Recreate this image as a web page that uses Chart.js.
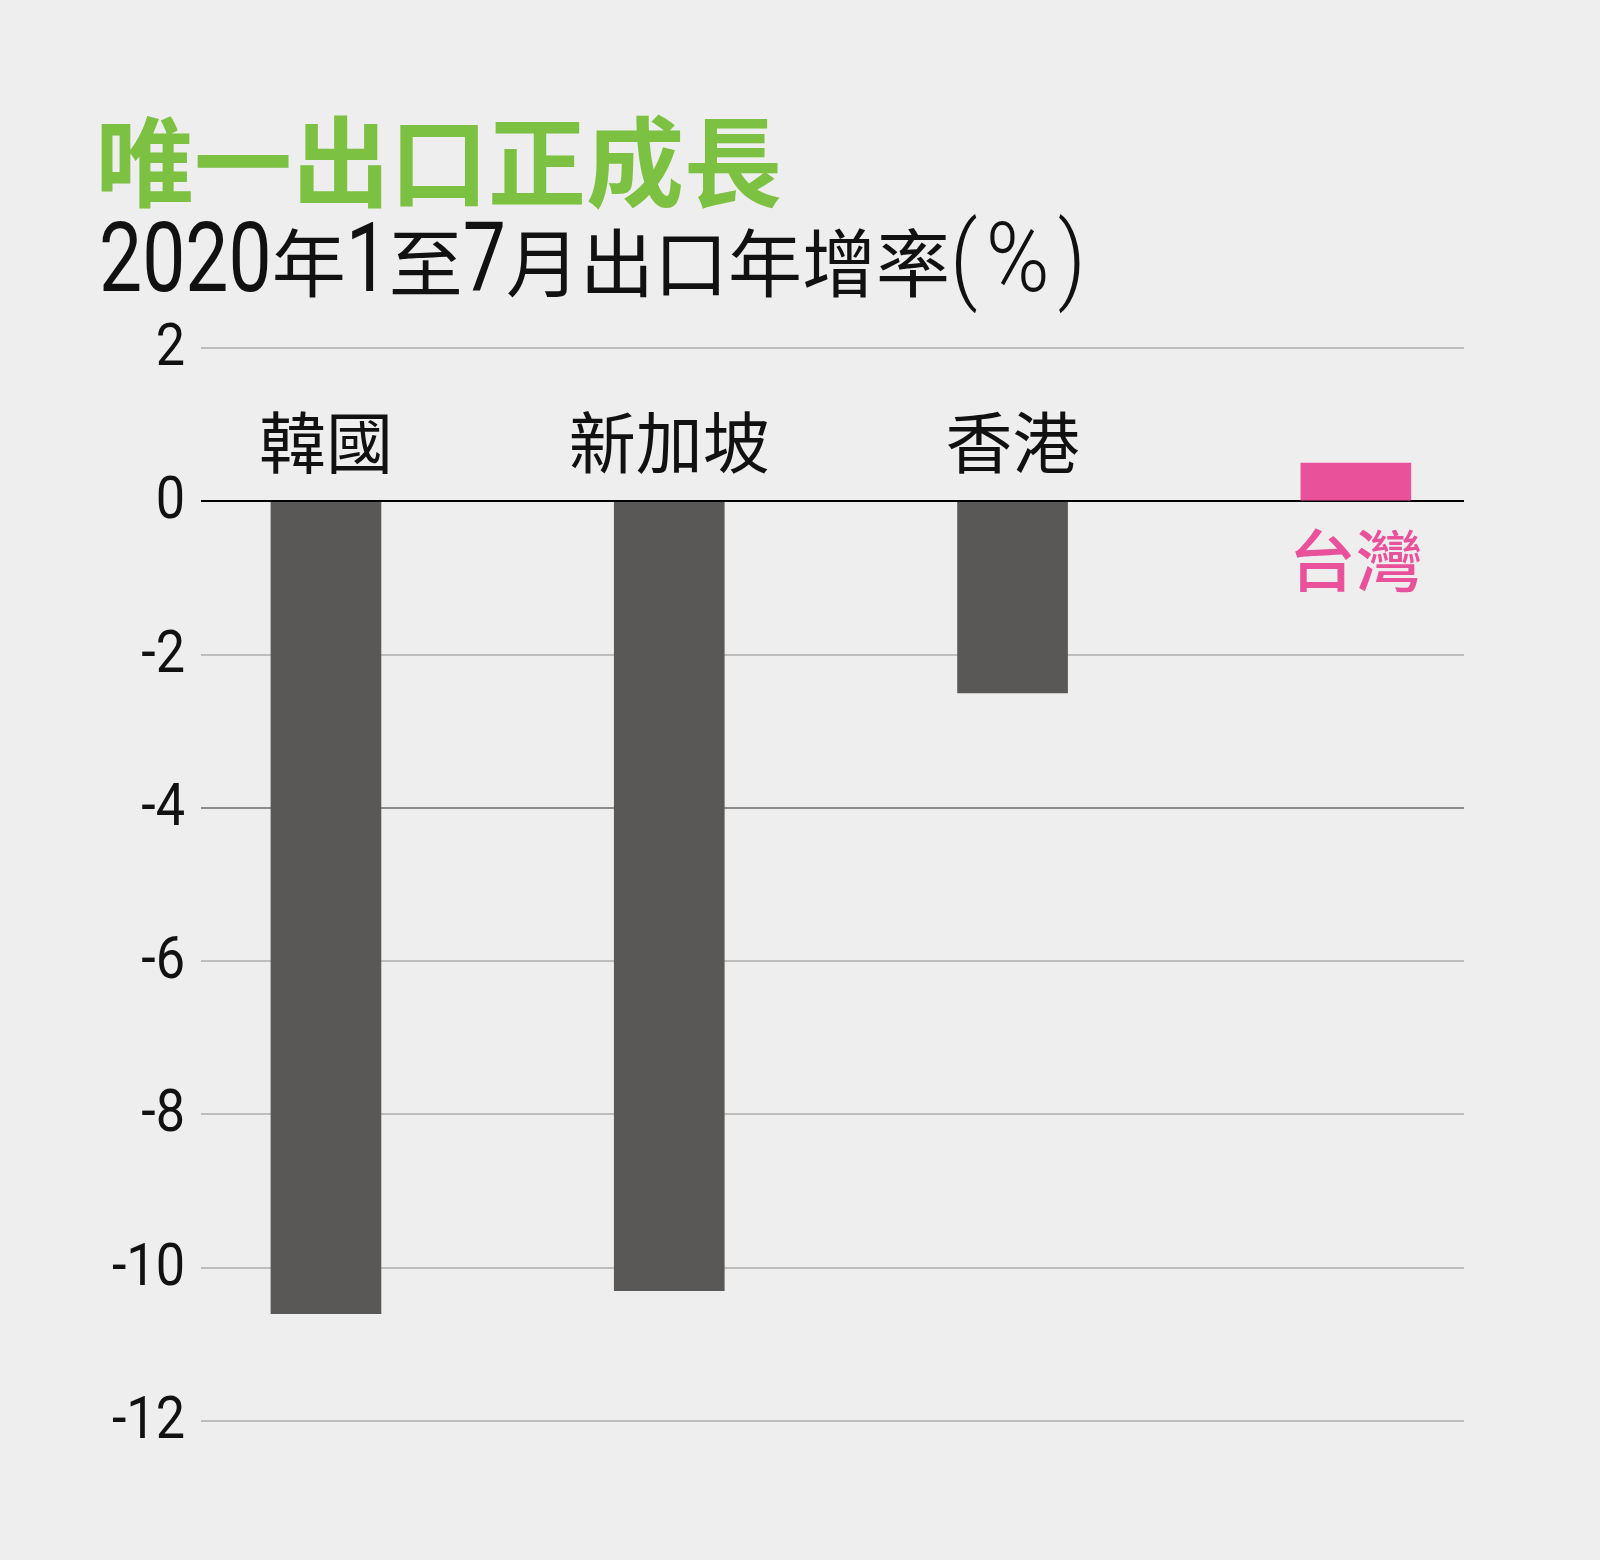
<!DOCTYPE html>
<html lang="zh-Hant">
<head>
<meta charset="utf-8">
<title>唯一出口正成長</title>
<script src="https://cdn.jsdelivr.net/npm/chart.js@4.4.1/dist/chart.umd.min.js"></script>
<style>
  html, body { margin: 0; padding: 0; background: #eeeeee; }
  #wrap { position: relative; width: 1600px; height: 1560px; }
</style>
</head>
<body>
<div id="wrap"><canvas id="exportChart"></canvas></div>
<script>
const categories = ["韓國", "新加坡", "香港", "台灣"];
const growth = [-10.6, -10.3, -2.5, 0.5];
const barColors = ["#595856", "#595856", "#595856", "#e9519a"];
const labelColors = ["#111111", "#111111", "#111111", "#e9519a"];
const title = "唯一出口正成長";
const subtitleParts = [["2020", "num"], ["年", "cjk"], ["1", "num"], ["至", "cjk"], ["7", "num"], ["月出口年增率", "cjk"], ["(%)", "sym"]];
const yMin = -12, yMax = 2, yStep = 2;

const NUM_FONT = 'Roboto, "Noto Sans", sans-serif';
const CJK_FONT = '"Noto Sans CJK TC", "Noto Sans CJK SC", sans-serif';

// no condensed face installed, so digits get squeezed horizontally
function narrowText(ctx, text, x, y, sx) {
  ctx.save();
  ctx.translate(x, y);
  ctx.scale(sx, 1);
  ctx.fillText(text, 0, 0);
  ctx.restore();
  return ctx.measureText(text).width * sx;
}

const headings = {
  id: "headings",
  afterDraw(chart) {
    const ctx = chart.ctx;
    ctx.save();
    ctx.textBaseline = "alphabetic";
    ctx.textAlign = "left";
    ctx.fillStyle = "#7dc143";
    ctx.font = `bold 98px ${CJK_FONT}`;
    ctx.fillText(title, 96, 199);
    let x = 99;
    ctx.fillStyle = "#111111";
    subtitleParts.forEach(([t, kind]) => {
      if (kind === "cjk") {
        ctx.font = `74px ${CJK_FONT}`;
        ctx.fillText(t, x, 291);
        x += ctx.measureText(t).width;
      } else if (kind === "num") {
        ctx.font = `96px ${NUM_FONT}`;
        x += narrowText(ctx, t, x, 291, 0.8);
      } else {
        ctx.font = `300 96px ${NUM_FONT}`;
        ctx.letterSpacing = "9px";
        x += narrowText(ctx, t, x, 291, 0.9);
        ctx.letterSpacing = "0px";
      }
    });
    ctx.restore();
  }
};

// y tick labels drawn from the scale's own ticks, squeezed like the digits above
const tickLabels = {
  id: "tickLabels",
  afterDraw(chart) {
    const ctx = chart.ctx;
    const y = chart.scales.y;
    ctx.save();
    ctx.fillStyle = "#111111";
    ctx.font = `60px ${NUM_FONT}`;
    ctx.textAlign = "right";
    ctx.textBaseline = "middle";
    y.ticks.forEach(t => {
      narrowText(ctx, String(t.value), y.right - 16, y.getPixelForValue(t.value) + 2, 0.87);
    });
    ctx.restore();
  }
};

// country names: above the zero line for falls, below it for growth
const barLabels = {
  id: "barLabels",
  afterDatasetsDraw(chart) {
    const ctx = chart.ctx;
    const zero = chart.scales.y.getPixelForValue(0);
    const meta = chart.getDatasetMeta(0);
    ctx.save();
    ctx.textAlign = "center";
    ctx.textBaseline = "alphabetic";
    meta.data.forEach((bar, i) => {
      const v = growth[i];
      ctx.fillStyle = labelColors[i];
      ctx.font = (v >= 0 ? "500 " : "") + `67px ${CJK_FONT}`;
      ctx.fillText(categories[i], bar.x, v < 0 ? zero - 33 : zero + 85);
    });
    ctx.restore();
  }
};

new Chart(document.getElementById("exportChart"), {
  type: "bar",
  data: {
    datasets: [{
      data: growth.map((v, i) => ({ x: i, y: v })),
      backgroundColor: barColors,
      barThickness: 110,
      borderWidth: 0
    }]
  },
  options: {
    responsive: true,
    maintainAspectRatio: false,
    animation: false,
    layout: { padding: { top: 348, right: 136, bottom: 139, left: 0 } },
    plugins: { legend: { display: false }, tooltip: { enabled: false } },
    scales: {
      x: { type: "linear", offset: false, min: -0.364, max: 3.315, display: false },
      y: {
        min: yMin,
        max: yMax,
        afterFit(scale) { scale.width = 201; },
        border: { display: false },
        grid: {
          drawTicks: false,
          lineWidth: 2,
          color: c => c.tick.value === 0 ? "#000000" : c.tick.value === -4 ? "#8c8c8c" : "#bdbdbd"
        },
        ticks: { stepSize: yStep, display: false }
      }
    }
  },
  plugins: [barLabels, tickLabels, headings]
});
</script>
</body>
</html>
